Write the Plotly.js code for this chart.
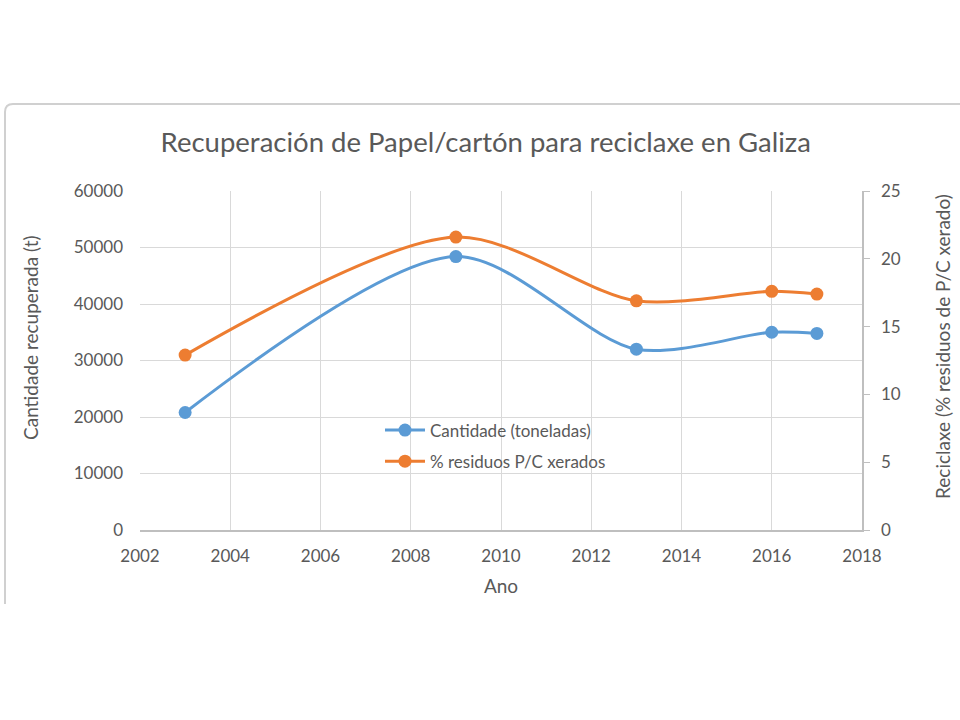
<!DOCTYPE html>
<html>
<head>
<meta charset="utf-8">
<script src="https://cdn.plot.ly/plotly-3.0.1.min.js"></script>
<style>
  html, body { margin: 0; padding: 0; background: #ffffff; }
  #chart { width: 960px; height: 720px; }
</style>
</head>
<body>
<div id="chart"></div>
<script>
// Data
const years = [2003, 2009, 2013, 2016, 2017];
const cantidade = [20800, 48400, 32000, 35000, 34800];      // toneladas (left axis)
const porcentaxe = [12.9, 21.6, 16.9, 17.6, 17.4];          // % residuos P/C xerados (right axis)
const seriesNames = ['Cantidade (toneladas)', '% residuos P/C xerados'];
const chartTitle = 'Recuperación de Papel/cartón para reciclaxe en Galiza';
const xTitle = 'Ano';
const yTitle = 'Cantidade recuperada (t)';
const y2Title = 'Reciclaxe (% residuos de P/C xerado)';

const FONT = 'Lato, "Open Sans", sans-serif';
const TXT = '#595959';
const GRID = '#d9d9d9';
const AXIS = '#bfbfbf';

const traces = [
  {
    x: years, y: cantidade, name: seriesNames[0], type: 'scatter', mode: 'lines+markers',
    line: { color: '#5B9BD5', width: 3, shape: 'spline', smoothing: 0.85 },
    marker: { color: '#5B9BD5', size: 13 },
    yaxis: 'y', legendgroup: 'a'
  },
  {
    x: years, y: porcentaxe, name: seriesNames[1], type: 'scatter', mode: 'lines+markers',
    line: { color: '#ED7D31', width: 3, shape: 'spline', smoothing: 0.85 },
    marker: { color: '#ED7D31', size: 13 },
    yaxis: 'y2', legendgroup: 'b'
  }
];

// frame of the embedded chart (paper coords relative to plot area)
const L = 140, R = 862, T = 191, B = 530;
const px = v => (v - L) / (R - L);
const py = v => (B - v) / (B - T);

const layout = {
  width: 960, height: 720,
  paper_bgcolor: '#ffffff', plot_bgcolor: '#ffffff',
  margin: { l: L, r: 960 - R, t: T, b: 720 - B, pad: 0 },
  font: { family: FONT, color: TXT, size: 17 },
  title: {
    text: chartTitle,
    font: { family: FONT, size: 27.5, color: TXT },
    x: 0.506, xanchor: 'center', y: 1 - 142 / 720, yanchor: 'middle', yref: 'container'
  },
  showlegend: true,
  legend: {
    x: px(380), y: py(446), xanchor: 'left', yanchor: 'middle',
    bgcolor: 'rgba(0,0,0,0)', font: { family: FONT, size: 17, color: TXT },
    itemwidth: 40, tracegroupgap: 6
  },
  xaxis: {
    range: [2002, 2018], dtick: 2, tick0: 2002,
    showgrid: true, gridcolor: GRID, gridwidth: 1,
    showline: true, linecolor: AXIS, linewidth: 1.5,
    zeroline: false, ticks: '',
    ticklabelstandoff: 10,
    tickfont: { family: FONT, size: 17, color: TXT },
    title: { text: xTitle, font: { family: FONT, size: 19, color: TXT }, standoff: 15 }
  },
  yaxis: {
    range: [0, 60000], dtick: 10000, tickformat: 'd',
    showgrid: true, gridcolor: GRID, gridwidth: 1,
    showline: false, zeroline: false, ticks: '',
    ticklabelstandoff: 16,
    tickfont: { family: FONT, size: 17, color: TXT }
  },
  yaxis2: {
    range: [0, 25], dtick: 5, overlaying: 'y', side: 'right',
    showgrid: false, zeroline: false,
    showline: true, linecolor: AXIS, linewidth: 1.5,
    ticks: 'outside', ticklen: 6, tickcolor: AXIS,
    ticklabelstandoff: 8,
    tickfont: { family: FONT, size: 17, color: TXT }
  },
  annotations: [
    {
      text: yTitle, xref: 'paper', yref: 'paper', x: px(30), y: py(338),
      xanchor: 'center', yanchor: 'middle', textangle: -90, showarrow: false,
      font: { family: FONT, size: 19, color: TXT }
    },
    {
      text: y2Title, xref: 'paper', yref: 'paper', x: px(942), y: py(347),
      xanchor: 'center', yanchor: 'middle', textangle: -90, showarrow: false,
      font: { family: FONT, size: 19, color: TXT }
    }
  ],
  shapes: [
    {
      type: 'path', xref: 'paper', yref: 'paper',
      path: `M ${px(5)} ${py(604)} L ${px(5)} ${py(112)} Q ${px(5)} ${py(104)} ${px(13)} ${py(104)} L ${px(962)} ${py(104)}`,
      line: { color: '#d0d0d0', width: 2 }
    }
  ]
};

Plotly.newPlot('chart', traces, layout, { displayModeBar: false, staticPlot: true });
</script>
</body>
</html>
